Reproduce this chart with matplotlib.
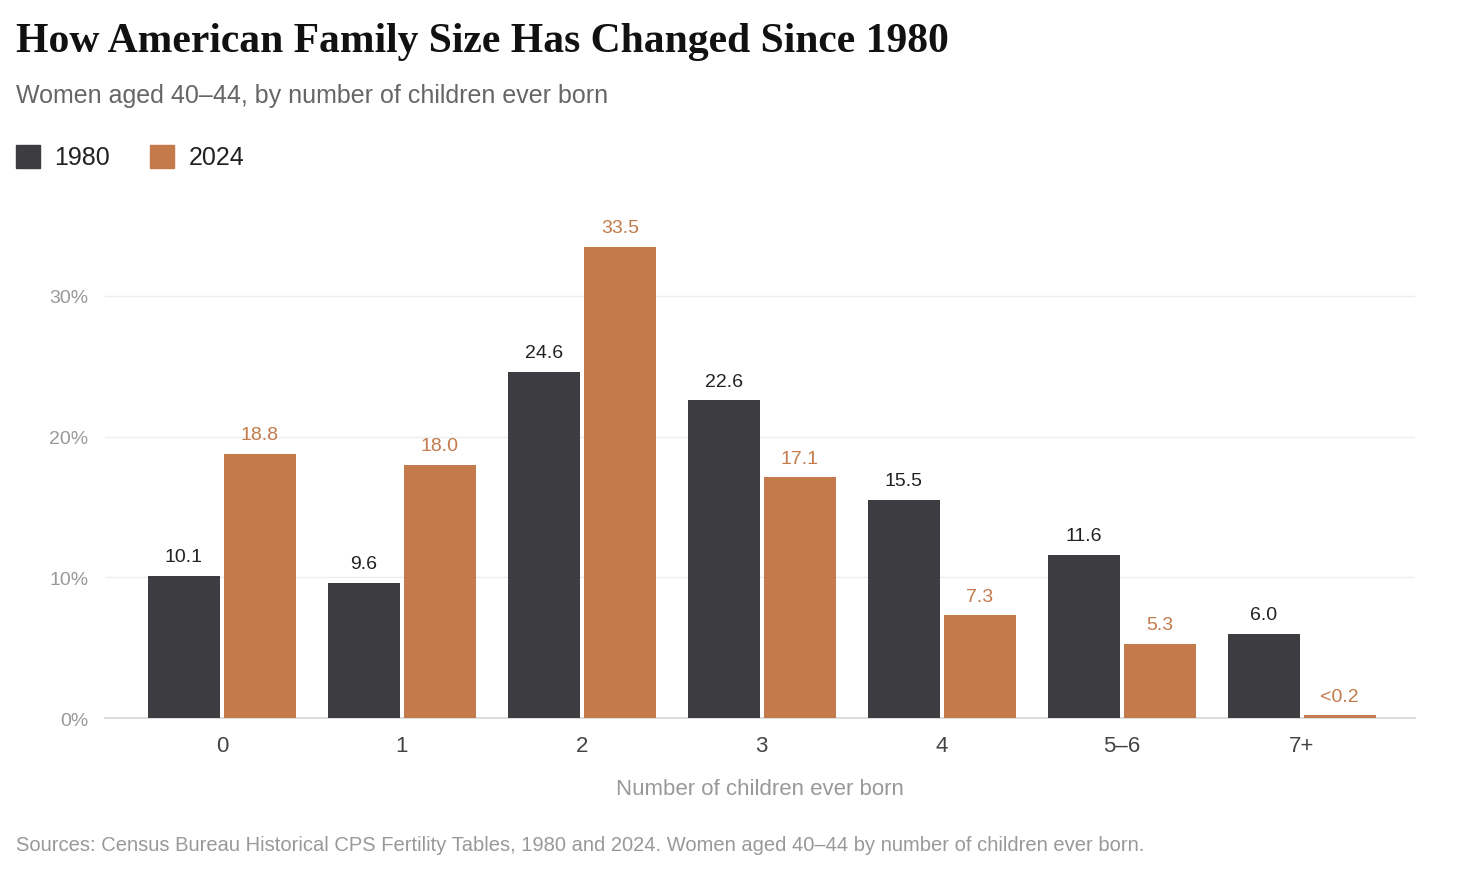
import matplotlib.pyplot as plt
import numpy as np

categories = ["0", "1", "2", "3", "4", "5\u20136", "7+"]
y1980 = [10.1, 9.6, 24.6, 22.6, 15.5, 11.6, 6.0]
y2024 = [18.8, 18.0, 33.5, 17.1, 7.3, 5.3, 0.2]
labels2024 = ["18.8", "18.0", "33.5", "17.1", "7.3", "5.3", "<0.2"]

dark = "#3d3c41"
orange = "#c47a4a"
plt.rcParams["font.family"] = ["Liberation Sans", "DejaVu Sans"]

fig = plt.figure(figsize=(14.72, 8.78), dpi=100)
ax = fig.add_axes([0.0713, 0.181, 0.89, 0.6026])

x = np.arange(len(categories))
w = 0.4
off = 0.211
b1 = ax.bar(x - off, y1980, w, color=dark, zorder=3)
b2 = ax.bar(x + off, y2024, w, color=orange, zorder=3)
for xi, v in zip(x, y1980):
    ax.text(xi - off, v + 0.75, f"{v:.1f}", ha="center", va="bottom", fontsize=14, color="#222222")
for xi, v, t in zip(x, y2024, labels2024):
    ax.text(xi + off, v + 0.75, t, ha="center", va="bottom", fontsize=14, color=orange)

ax.set_xlim(-0.65, 6.63)
ax.set_ylim(0, 37.6)
ax.set_yticks([0, 10, 20, 30])
ax.set_yticklabels(["0%", "10%", "20%", "30%"])
ax.set_xticks(x)
ax.set_xticklabels(categories)
ax.tick_params(axis="y", length=0, labelsize=14, labelcolor="#999999", pad=12)
ax.tick_params(axis="x", length=0, labelsize=16, labelcolor="#444444", pad=12)
ax.grid(axis="y", color="#eeeeee", linewidth=1, zorder=0)
for s in ["top", "right", "left"]:
    ax.spines[s].set_visible(False)
ax.spines["bottom"].set_color("#dddddd")
ax.spines["bottom"].set_linewidth(1.5)
ax.set_xlabel("Number of children ever born", fontsize=16, color="#999999", labelpad=16)

fig.text(0.011, 0.952, "How American Family Size Has Changed Since 1980", fontsize=30,
         fontweight="bold", family="Liberation Serif", color="#111111", va="center")
fig.text(0.011, 0.891, "Women aged 40\u201344, by number of children ever born", fontsize=18,
         color="#666666", va="center")
for xf, col, lab in [(0.011, dark, "1980"), (0.102, orange, "2024")]:
    fig.patches.append(plt.Rectangle((xf, 0.807), 0.016, 0.027, transform=fig.transFigure,
                                     color=col, figure=fig))
    fig.text(xf + 0.026, 0.82, lab, fontsize=18, color="#222222", va="center")
fig.text(0.011, 0.037, "Sources: Census Bureau Historical CPS Fertility Tables, 1980 and 2024. "
         "Women aged 40\u201344 by number of children ever born.", fontsize=14.5,
         color="#999999", va="center")

fig.savefig("out.png", dpi=100)
